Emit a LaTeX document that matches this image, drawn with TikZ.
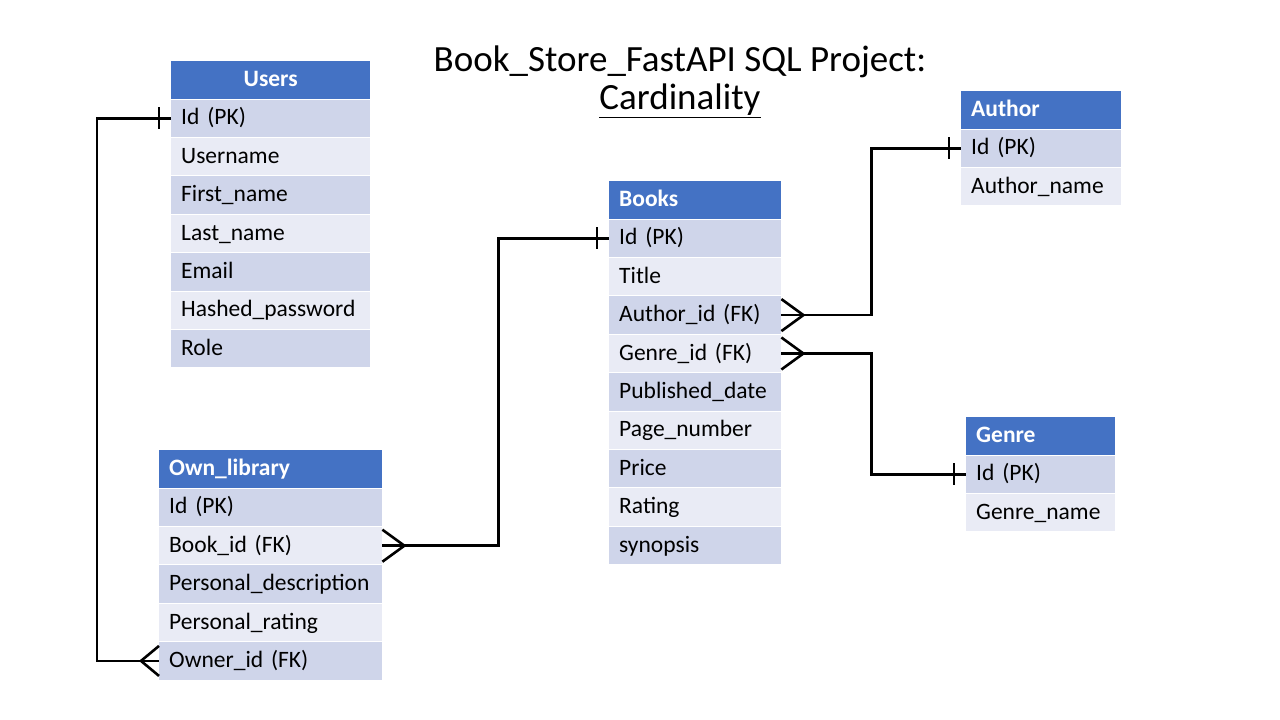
\documentclass[tikz,border=0pt]{standalone}
\usepackage{fontspec}
\setmainfont{Carlito}
\usetikzlibrary{positioning,calc}
\definecolor{hdblue}{HTML}{4472C4}
\definecolor{rowdark}{HTML}{CFD5EA}
\definecolor{rowlight}{HTML}{E9EBF5}
\tikzset{cell/.style={anchor=north west, minimum height=37.4pt, inner xsep=10pt, inner ysep=0pt, text height=17pt, text depth=4pt, align=left, font=\fontsize{23.5}{27}\selectfont}}
\tikzset{head/.style={cell, fill=hdblue, text=white, font=\fontsize{23.5}{27}\selectfont\bfseries}}
\tikzset{link/.style={line width=2.6pt}}

\begin{document}
\begin{tikzpicture}[x=1pt,y=-1pt]
    \useasboundingbox (0,0) rectangle (1280,720);
    \node [font=\fontsize{37}{38}\selectfont, align=center] (title) at (680,82) {Book\_Store\_FastAPI SQL Project:\\\underline{Cardinality}};
    % Users
    \node [head, text width=179pt, align=center] (users) at (171,61) {Users};
    \foreach \txt [count=\i] in {Id (PK),Username,First\_name,Last\_name,Email,Hashed\_password,Role} {
        \ifodd\i\def\rc{rowdark}\else\def\rc{rowlight}\fi
        \node [cell, fill=\rc, text width=179pt] (users-\i) at (171,{61+38.4*\i}) {\txt};
    }
    % Books
    \node [head, text width=152pt] (books) at (609,181) {Books};
    \foreach \txt [count=\i] in {Id (PK),Title,Author\_id (FK),Genre\_id (FK),Published\_date,Page\_number,Price,Rating,synopsis} {
        \ifodd\i\def\rc{rowdark}\else\def\rc{rowlight}\fi
        \node [cell, fill=\rc, text width=152pt] (books-\i) at (609,{181+38.4*\i}) {\txt};
    }
    % Author
    \node [head, text width=140pt] (author) at (961,91) {Author};
    \foreach \txt [count=\i] in {Id (PK),Author\_name} {
        \ifodd\i\def\rc{rowdark}\else\def\rc{rowlight}\fi
        \node [cell, fill=\rc, text width=140pt] (author-\i) at (961,{91+38.4*\i}) {\txt};
    }
    % Genre
    \node [head, text width=129pt] (genre) at (966,417) {Genre};
    \foreach \txt [count=\i] in {Id (PK),Genre\_name} {
        \ifodd\i\def\rc{rowdark}\else\def\rc{rowlight}\fi
        \node [cell, fill=\rc, text width=129pt] (genre-\i) at (966,{417+38.4*\i}) {\txt};
    }
    % Own_library
    \node [head, text width=203pt] (own) at (159,450) {Own\_library};
    \foreach \txt [count=\i] in {Id (PK),Book\_id (FK),Personal\_description,Personal\_rating,Owner\_id (FK)} {
        \ifodd\i\def\rc{rowdark}\else\def\rc{rowlight}\fi
        \node [cell, fill=\rc, text width=203pt] (own-\i) at (159,{450+38.4*\i}) {\txt};
    }
    % relations
    \draw [link] (users-1.west) -- ++(-74,0) |- (own-5.west);
    \draw [link] (own-2.east) -- ++(116,0) |- (books-1.west);
    \draw [link] (books-3.east) -- ++(90,0) |- (author-1.west);
    \draw [link] (books-4.east) -- ++(90,0) |- (genre-1.west);
    % one ends
    \foreach \n in {users-1,books-1,author-1,genre-1} {
        \draw [link] ([xshift=-12pt]\n.west) ++(0,-11) -- ++(0,22);
    }
    % many ends
    \draw [link] (own-5.west) ++(0,-15) -- ++(-18,15) -- ++(18,15);
    \foreach \n in {own-2,books-3,books-4} {
        \draw [link] (\n.east) ++(0,-16) -- ++(22,16) -- ++(-22,16);
    }
\end{tikzpicture}
\end{document}
